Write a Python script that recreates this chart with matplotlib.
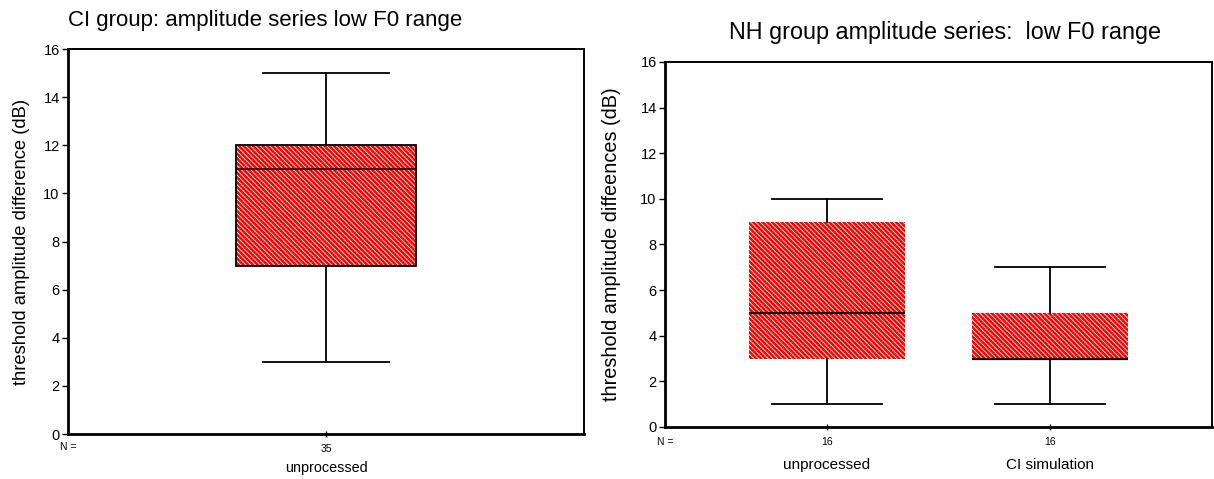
import matplotlib
matplotlib.use("Agg")
import matplotlib.pyplot as plt
from matplotlib.patches import PathPatch
import matplotlib.transforms as mtransforms

plt.rcParams.update({
    "font.family": ["Liberation Sans", "DejaVu Sans"],
    "hatch.color": "white",
    "hatch.linewidth": 0.6,
})

RED = "#ff0000"

# CI group, amplitude series, low F0 range
ci_labels = ["unprocessed"]
ci_n = [35]
ci_whislo = [3]
ci_q1 = [7]
ci_med = [11]
ci_q3 = [12]
ci_whishi = [15]

# NH group, amplitude series, low F0 range
nh_labels = ["unprocessed", "CI simulation"]
nh_n = [16, 16]
nh_whislo = [1, 1]
nh_q1 = [3, 3]
nh_med = [5, 3]
nh_q3 = [9, 5]
nh_whishi = [10, 7]

yticks = [0, 2, 4, 6, 8, 10, 12, 14, 16]


def make_stats(labels, whislo, q1, med, q3, whishi):
    return [{"label": l, "whislo": a, "q1": b, "med": c, "q3": d, "whishi": e, "fliers": []}
            for l, a, b, c, d, e in zip(labels, whislo, q1, med, q3, whishi)]


def draw_panel(ax, stats, ns, xlim, outline, med_lw, name_size, name_y, n_y,
               ylabel, ylabel_size, ylabel_x):
    pos = list(range(1, len(stats) + 1))
    bp = ax.bxp(stats, positions=pos, widths=0.70, patch_artist=True,
                showfliers=False, capwidths=0.49,
                boxprops=dict(facecolor=RED, edgecolor="white", linewidth=0,
                              hatch="\\" * 7),
                medianprops=dict(color="black", linewidth=med_lw),
                whiskerprops=dict(color="black", linewidth=1.3),
                capprops=dict(color="black", linewidth=1.3))
    if outline:
        for b in bp["boxes"]:
            ax.add_patch(PathPatch(b.get_path(), transform=b.get_transform(),
                                   fill=False, edgecolor="black", linewidth=1.3, zorder=3))
    ax.set_xlim(*xlim)
    ax.set_ylim(0, 16)
    ax.set_yticks(yticks)
    ax.tick_params(axis="y", labelsize=10.5, length=4, width=1, direction="out", pad=2)
    ax.set_xticks(pos)
    ax.set_xticklabels([str(n) for n in ns])
    ax.tick_params(axis="x", labelsize=7.5, length=4, width=1, direction="inout", pad=5)
    for s in ax.spines.values():
        s.set_linewidth(1.4)
    ax.spines["left"].set_linewidth(2)
    ax.spines["bottom"].set_linewidth(2)
    ax.set_ylabel(ylabel, fontsize=ylabel_size)
    ax.yaxis.set_label_coords(ylabel_x, 0.5)
    trans = mtransforms.blended_transform_factory(ax.transData, ax.transAxes)
    for p, s in zip(pos, stats):
        ax.text(p, name_y, s["label"], transform=trans, ha="center", va="center",
                fontsize=name_size)
    ax.text(0, n_y, "N =", transform=ax.transAxes, ha="center", va="center",
            fontsize=7.5)


fig = plt.figure(figsize=(12.14, 4.79), dpi=100)
ax1 = fig.add_axes([0.0560, 0.0939, 0.4250, 0.8038])
ax2 = fig.add_axes([0.5478, 0.1086, 0.4506, 0.7620])

draw_panel(ax1, make_stats(ci_labels, ci_whislo, ci_q1, ci_med, ci_q3, ci_whishi),
           ci_n, (0, 2), True, 1.1, 10.4, -0.088, -0.034,
           "threshold amplitude difference (dB)", 13.2, -0.074)
draw_panel(ax2, make_stats(nh_labels, nh_whislo, nh_q1, nh_med, nh_q3, nh_whishi),
           nh_n, (0.274, 2.726), False, 1.6, 11, -0.104, -0.041,
           "threshold amplitude diffeences (dB)", 14.3, -0.080)

ax1.text(0, 1.075, "CI group: amplitude series low F0 range", transform=ax1.transAxes,
         ha="left", va="center", fontsize=16)
ax2.text(0.512, 1.082, "NH group amplitude series:  low F0 range", transform=ax2.transAxes,
         ha="center", va="center", fontsize=16.8)

fig.savefig("out.png", dpi=100)
